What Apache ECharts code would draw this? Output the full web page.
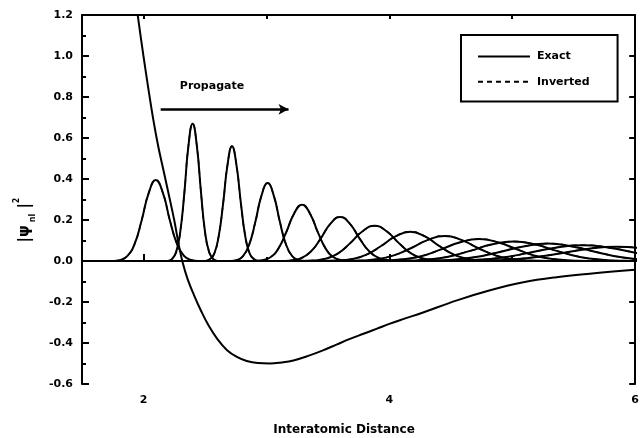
<!DOCTYPE html>
<html>
<head>
<meta charset="utf-8">
<script src="https://cdn.jsdelivr.net/npm/echarts@6/dist/echarts.min.js"></script>
<style>html,body{margin:0;padding:0;background:#fff}#c{width:642px;height:438px}</style>
</head>
<body>
<div id="c"></div>
<script>
// ---- data ----
const xMajorTicks = [2, 4, 6];
const xMinorTicks = [3, 5];
const yRange = [-0.6, 1.2];

// potential curve (x, y)
const potential = [[1.93,1.31],[1.96,1.17],[2.0,1.0],[2.04,0.84],[2.08,0.69],[2.12,0.56],[2.16,0.45],[2.2,0.34],[2.25,0.2],[2.29,0.07],[2.32,-0.01],[2.36,-0.09],[2.41,-0.165],[2.47,-0.245],[2.53,-0.315],[2.6,-0.38],[2.68,-0.435],[2.76,-0.468],[2.84,-0.488],[2.93,-0.498],[3.03,-0.5],[3.12,-0.495],[3.22,-0.485],[3.34,-0.463],[3.46,-0.436],[3.57,-0.408],[3.68,-0.38],[3.79,-0.355],[3.9,-0.33],[4.0,-0.307],[4.1,-0.286],[4.28,-0.25],[4.55,-0.192],[4.82,-0.143],[5.09,-0.104],[5.36,-0.079],[5.63,-0.062],[6.0,-0.043]];

// wave packets: x positions and |psi|^2 values
const p1x = [1.755,1.813,1.87,1.928,1.985,2.043,2.1,2.158,2.215,2.273,2.33,2.388,2.445];
const p1y = [0,0.005,0.025,0.083,0.198,0.332,0.395,0.332,0.198,0.083,0.025,0.005,0];
const p2x = [2.198,2.231,2.265,2.299,2.333,2.366,2.4,2.434,2.468,2.501,2.535,2.569,2.603];
const p2y = [0,0.009,0.042,0.141,0.335,0.563,0.67,0.563,0.335,0.141,0.042,0.009,0];
const p3x = [2.503,2.539,2.575,2.611,2.648,2.684,2.72,2.756,2.793,2.829,2.865,2.901,2.938];
const p3y = [0,0.008,0.035,0.118,0.28,0.47,0.56,0.47,0.28,0.118,0.035,0.008,0];
const p4x = [2.71,2.76,2.81,2.86,2.91,2.96,3.01,3.06,3.11,3.16,3.21,3.26,3.31];
const p4y = [0,0.005,0.024,0.08,0.19,0.319,0.38,0.319,0.19,0.08,0.024,0.005,0];
const p5x = [2.9,2.965,3.03,3.095,3.16,3.225,3.29,3.355,3.42,3.485,3.55,3.615,3.68];
const p5y = [0,0.004,0.017,0.058,0.138,0.231,0.275,0.231,0.138,0.058,0.017,0.004,0];
const p6x = [3.12,3.2,3.28,3.36,3.44,3.52,3.6,3.68,3.76,3.84,3.92,4.0,4.08];
const p6y = [0,0.003,0.013,0.045,0.108,0.181,0.215,0.181,0.108,0.045,0.013,0.003,0];
const p7x = [3.28,3.38,3.48,3.58,3.68,3.78,3.88,3.98,4.08,4.18,4.28,4.38,4.48];
const p7y = [0,0.002,0.011,0.036,0.086,0.144,0.172,0.144,0.086,0.036,0.011,0.002,0];
const p8x = [3.45,3.57,3.69,3.81,3.93,4.05,4.17,4.29,4.41,4.53,4.65,4.77,4.89];
const p8y = [0,0.002,0.009,0.03,0.072,0.12,0.143,0.12,0.072,0.03,0.009,0.002,0];
const p9x = [3.61,3.75,3.89,4.03,4.17,4.31,4.45,4.59,4.73,4.87,5.01,5.15,5.29];
const p9y = [0,0.002,0.008,0.026,0.061,0.102,0.122,0.102,0.061,0.026,0.008,0.002,0];
const p10x = [3.77,3.93,4.09,4.25,4.41,4.57,4.73,4.89,5.05,5.21,5.37,5.53,5.69];
const p10y = [0,0.001,0.007,0.022,0.054,0.09,0.107,0.09,0.054,0.022,0.007,0.001,0];
const p11x = [3.93,4.11,4.29,4.47,4.65,4.83,5.01,5.19,5.37,5.55,5.73,5.91,6.09];
const p11y = [0,0.001,0.006,0.02,0.048,0.08,0.095,0.08,0.048,0.02,0.006,0.001,0];
const p12x = [4.09,4.29,4.49,4.69,4.89,5.09,5.29,5.49,5.69,5.89,6.09,6.29,6.49];
const p12y = [0,0.001,0.005,0.018,0.043,0.071,0.085,0.071,0.043,0.018,0.005,0.001,0];
const p13x = [4.25,4.47,4.69,4.91,5.13,5.35,5.57,5.79,6.01,6.23,6.45,6.67,6.89];
const p13y = [0,0.001,0.005,0.016,0.039,0.065,0.077,0.065,0.039,0.016,0.005,0.001,0];
const p14x = [4.41,4.65,4.89,5.13,5.37,5.61,5.85,6.09,6.33,6.57,6.81,7.05,7.29];
const p14y = [0,0.001,0.004,0.015,0.035,0.059,0.07,0.059,0.035,0.015,0.004,0.001,0];

const packetsX = [p1x,p2x,p3x,p4x,p5x,p6x,p7x,p8x,p9x,p10x,p11x,p12x,p13x,p14x];
const packetsY = [p1y,p2y,p3y,p4y,p5y,p6y,p7y,p8y,p9y,p10y,p11y,p12y,p13y,p14y];

// propagate arrow (data coords)
const arrowStart = [2.14, 0.74];
const arrowEnd = [3.18, 0.74];

// ---- chart ----
const FONT = 'DejaVu Sans';
const chart = echarts.init(document.getElementById('c'), null, {renderer: 'canvas'});

const series = [];
packetsX.forEach((xs, i) => {
  series.push({
    name: 'Inverted', type: 'line', xAxisIndex: 0, yAxisIndex: 0,
    data: xs.map((x, j) => [x, packetsY[i][j]]),
    smooth: 0.5, showSymbol: false, symbol: 'none', silent: true,
    itemStyle: {color: '#000'},
    lineStyle: {color: '#000', width: 1.5, type: [5, 4]}, z: 2
  });
});
packetsX.forEach((xs, i) => {
  series.push({
    name: 'Exact', type: 'line', xAxisIndex: 0, yAxisIndex: 0,
    data: xs.map((x, j) => [x, packetsY[i][j]]),
    smooth: 0.5, showSymbol: false, symbol: 'none', silent: true,
    itemStyle: {color: '#000'},
    lineStyle: {color: '#000', width: 2}, z: 3
  });
});
series.push({
  name: 'Potential', type: 'line', xAxisIndex: 0, yAxisIndex: 0,
  data: potential, smooth: 0.4, showSymbol: false, symbol: 'none', silent: true,
  itemStyle: {color: '#000'},
  lineStyle: {color: '#000', width: 2}, z: 3,
  markLine: {
    silent: true, animation: false,
    label: {show: false},
    data: [
      [{coord: arrowStart, symbol: 'none'}, {coord: arrowEnd, symbol: 'arrow', symbolSize: [8, 10]}],
      [{yAxis: 0, x: '0%', symbol: 'none'}, {yAxis: 0, symbol: 'none'}]
    ],
    lineStyle: {color: '#000', width: 2.5, type: 'solid'}
  }
});

const axisTextStyle = {color: '#000', fontFamily: FONT, fontWeight: 'bold', fontSize: 11};

chart.setOption({
  animation: false,
  backgroundColor: '#fff',
  grid: {left: 82, right: 2, top: 15, bottom: 54},
  legend: {
    data: ['Exact', 'Inverted'],
    orient: 'vertical', left: 461, top: 35,
    icon: 'inherit',
    itemStyle: {opacity: 0},
    itemWidth: 52, itemHeight: 14, itemGap: 14,
    padding: [16, 28, 14, 16],
    borderColor: '#000', borderWidth: 2,
    selectedMode: false,
    textStyle: {color: '#000', fontFamily: FONT, fontWeight: 'bold', fontSize: 11, padding: [0,0,0,2]}
  },
  xAxis: [
    {
      type: 'value', min: 1.5, max: 6, position: 'bottom',
      axisLine: {show: true, lineStyle: {color: '#000', width: 2}},
      axisTick: {show: true, inside: true, length: 7, customValues: xMajorTicks, lineStyle: {color: '#000', width: 2}},
      axisLabel: {show: true, customValues: xMajorTicks, margin: 11, ...axisTextStyle, formatter: v => String(v)},
      splitLine: {show: false}
    },
    {
      type: 'value', min: 1.5, max: 6, position: 'bottom',
      axisLine: {show: false},
      axisTick: {show: true, inside: true, length: 4, customValues: xMinorTicks, lineStyle: {color: '#000', width: 2}},
      axisLabel: {show: false}, splitLine: {show: false}
    },
    {
      type: 'value', min: 1.5, max: 6, position: 'top',
      axisLine: {show: true, lineStyle: {color: '#000', width: 2}},
      axisTick: {show: true, inside: true, length: 4, customValues: xMajorTicks.concat(xMinorTicks), lineStyle: {color: '#000', width: 2}},
      axisLabel: {show: false}, splitLine: {show: false}
    }
  ],
  yAxis: [
    {
      type: 'value', min: yRange[0], max: yRange[1], interval: 0.2, position: 'left',
      axisLine: {show: true, onZero: false, lineStyle: {color: '#000', width: 2}},
      axisTick: {show: true, inside: true, length: 7, lineStyle: {color: '#000', width: 2}},
      minorTick: {show: true, splitNumber: 2, length: 4, lineStyle: {color: '#000', width: 2}},
      axisLabel: {show: true, margin: 9, ...axisTextStyle, formatter: v => v.toFixed(1)},
      splitLine: {show: false}
    },
    {
      type: 'value', min: yRange[0], max: yRange[1], interval: 0.2, position: 'right',
      axisLine: {show: true, onZero: false, lineStyle: {color: '#000', width: 2}},
      axisTick: {show: true, inside: true, length: 6, lineStyle: {color: '#000', width: 2}},
      axisLabel: {show: false}, splitLine: {show: false}
    }
  ],
  graphic: [
    {
      type: 'text', x: 25, y: 220, rotation: Math.PI / 2,
      style: {
        text: '{m||ψ}{s| nl}{m| |}{p|2}',
        x: 0, y: 0, align: 'center', verticalAlign: 'middle',
        rich: {
          m: {fontFamily: FONT, fontWeight: 'bold', fontSize: 15, fill: '#000', lineHeight: 24, verticalAlign: 'middle'},
          s: {fontFamily: FONT, fontWeight: 'bold', fontSize: 8, fill: '#000', lineHeight: 24, verticalAlign: 'bottom'},
          p: {fontFamily: FONT, fontWeight: 'bold', fontSize: 8, fill: '#000', lineHeight: 24, verticalAlign: 'top'}
        }
      }
    },
    {
      type: 'text', x: 212, y: 86,
      style: {text: 'Propagate', align: 'center', verticalAlign: 'middle', fontFamily: FONT, fontWeight: 'bold', fontSize: 11, fill: '#000'}
    },
    {
      type: 'text', x: 344, y: 430,
      style: {text: 'Interatomic Distance', align: 'center', verticalAlign: 'middle', fontFamily: FONT, fontWeight: 'bold', fontSize: 12, fill: '#000'}
    }
  ],
  series: series
});
</script>
</body>
</html>
